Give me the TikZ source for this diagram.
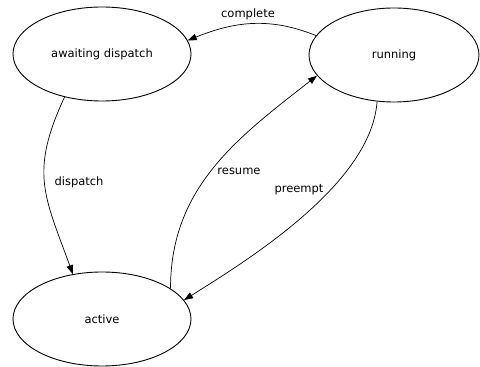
\documentclass[tikz,border=0pt]{standalone}
\usepackage{fontspec}
\setmainfont{DejaVu Sans}
\usetikzlibrary{shapes.geometric,arrows.meta}

\tikzset{
    state/.style={draw,ellipse,line width=0.9pt,minimum width=178pt,minimum height=94pt,inner sep=0pt,font=\fontsize{11.5}{13}\selectfont},
    trans/.style={line width=0.7pt,-{Triangle[length=9pt,width=6.5pt]}},
    lbl/.style={font=\fontsize{11.5}{13}\selectfont,inner sep=1pt}
}

\begin{document}
\begin{tikzpicture}[x=1pt,y=1pt]
            \useasboundingbox (0,0) rectangle (480,367);
            % states
            \node[state] (await) at (102,313) {awaiting dispatch};
            \node[state,minimum width=170pt] (run) at (394,312) {running};
            \node[state] (active) at (102,48) {active};

            % transitions
            \draw[trans] (run.166) to[out=158,in=22] (await.9);
            \draw[trans] (await.229) to[out=245,in=110,looseness=1.2] (active.123);
            \draw[trans] (active.24) to[out=90,in=218] (run.195);
            \draw[trans] (run.250) to[out=266,in=32,looseness=0.75] (active.13);

            % labels
            \node[lbl] (lcomplete) at (248,353) {complete};
            \node[lbl] (ldispatch) at (79,185) {dispatch};
            \node[lbl] (lresume) at (239,196) {resume};
            \node[lbl] (lpreempt) at (299,177) {preempt};
        \end{tikzpicture}
\end{document}
